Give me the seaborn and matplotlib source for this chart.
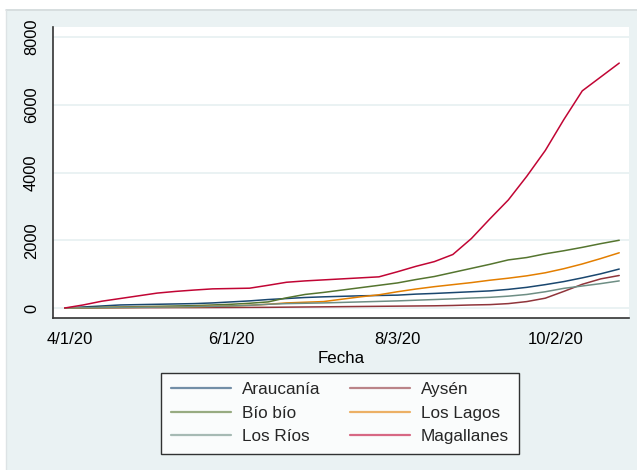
import matplotlib
matplotlib.use("Agg")
import matplotlib.pyplot as plt
import matplotlib.dates as mdates
from matplotlib.patches import Rectangle
from matplotlib.lines import Line2D
import numpy as np
import pandas as pd
import seaborn as sns

# Weekly cumulative cases per region
fechas = pd.date_range("2020-03-30", periods=31, freq="7D")

araucania = [0, 30, 60, 90, 100, 110, 120, 130, 150, 180, 210, 250, 280, 310, 330, 345,
             360, 370, 380, 410, 430, 455, 480, 505, 550, 610, 690, 780, 890, 1010, 1150]
aysen = [0, 2, 5, 8, 10, 10, 12, 12, 14, 15, 18, 20, 25, 30, 35, 40,
         45, 50, 55, 60, 65, 75, 90, 100, 130, 190, 290, 490, 700, 860, 960]
bio_bio = [0, 10, 20, 30, 40, 50, 60, 70, 90, 110, 140, 180, 300, 400, 460, 530,
           600, 670, 740, 840, 930, 1050, 1170, 1290, 1420, 1490, 1600, 1690, 1790, 1900, 2000]
los_lagos = [0, 5, 10, 15, 20, 25, 30, 40, 50, 60, 80, 110, 150, 170, 190, 260,
             330, 390, 480, 560, 630, 690, 750, 820, 880, 950, 1040, 1160, 1300, 1460, 1630]
los_rios = [0, 5, 10, 15, 20, 25, 30, 40, 50, 60, 80, 110, 130, 140, 150, 165,
            180, 195, 210, 230, 250, 270, 295, 315, 350, 400, 480, 580, 650, 720, 800]
magallanes = [0, 90, 200, 280, 360, 440, 490, 530, 565, 575, 585, 670, 760, 800, 830, 860,
              890, 920, 1070, 1230, 1370, 1580, 2050, 2630, 3190, 3890, 4650, 5560, 6410, 6820, 7230]

regiones = ["Araucanía", "Aysén", "Bío bío", "Los Lagos", "Los Ríos", "Magallanes"]
colores = ["#1a476f", "#90353b", "#55752f", "#e37e00", "#6e8e84", "#c10534"]

x_ticks = ["2020-04-01", "2020-06-01", "2020-08-03", "2020-10-02"]
x_tick_labels = ["4/1/20", "6/1/20", "8/3/20", "10/2/20"]
y_ticks = [0, 2000, 4000, 6000, 8000]

series = [araucania, aysen, bio_bio, los_lagos, los_rios, magallanes]
df = pd.concat(
    [pd.DataFrame({"Fecha": fechas, "Casos": vals, "Región": nombre})
     for nombre, vals in zip(regiones, series)],
    ignore_index=True,
)

sns.set_theme(style="white")
plt.rcParams["font.family"] = ["Liberation Sans", "DejaVu Sans"]

W, H = 637, 470
fig = plt.figure(figsize=(W / 100, H / 100), dpi=100)
fig.patch.set_facecolor("white")

# graph region background
fig.patches.append(Rectangle((6 / W, 0), 1, 1 - 9 / H, transform=fig.transFigure,
                             facecolor="#eaf2f3", edgecolor="none", zorder=-10))
fig.add_artist(Line2D([6 / W, 1], [1 - 9.5 / H, 1 - 9.5 / H], transform=fig.transFigure,
                      color="#d4dadc", lw=1.2))
fig.add_artist(Line2D([6.5 / W, 6.5 / W], [0, 1 - 9.5 / H], transform=fig.transFigure,
                      color="#dde3e5", lw=1.0))

ax = fig.add_axes([53 / W, 1 - 318 / H, (629 - 53) / W, (318 - 27) / H])
ax.set_facecolor("white")

sns.lineplot(data=df, x="Fecha", y="Casos", hue="Región", hue_order=regiones,
             palette=colores, linewidth=1.1, ax=ax, legend=True)

# axes limits and ticks
base = mdates.date2num(pd.Timestamp("2020-04-01"))
ax.set_xlim(base - 6.44, base + 211.7)
ax.set_ylim(-295, 8295)
ax.set_xticks([mdates.date2num(pd.Timestamp(t)) for t in x_ticks])
ax.set_xticklabels(x_tick_labels)
ax.set_yticks(y_ticks)
ax.set_yticklabels([str(v) for v in y_ticks], rotation=90, va="center")
ax.tick_params(axis="both", which="major", direction="out", length=6, width=1.0,
               color="#222222", labelsize=12, labelcolor="black", pad=4)
ax.tick_params(axis="y", labelsize=11.8)
ax.grid(axis="y", color="#eaf2f3", lw=1.4)
ax.grid(axis="x", visible=False)
ax.set_axisbelow(True)
for side in ["top", "right"]:
    ax.spines[side].set_visible(False)
for side in ["left", "bottom"]:
    ax.spines[side].set_color("#333333")
    ax.spines[side].set_linewidth(1.2)

ax.set_ylabel("")
ax.set_xlabel("Fecha", fontsize=12.2, color="black", labelpad=3)

handles, labels = ax.get_legend_handles_labels()
ax.get_legend().remove()
order = [0, 2, 4, 1, 3, 5]
leg = fig.legend([handles[i] for i in order], [labels[i] for i in order],
                 loc="upper center", bbox_to_anchor=(340 / W, 1 - 373 / H),
                 borderaxespad=0.0,
                 ncol=2, fontsize=12.3, frameon=True, fancybox=False,
                 handlelength=3.5, handletextpad=0.65, columnspacing=1.75,
                 labelspacing=0.5, borderpad=0.55)
leg.get_frame().set_edgecolor("black")
leg.get_frame().set_facecolor("white")
leg.get_frame().set_linewidth(1.0)
for line in leg.get_lines():
    line.set_linewidth(1.6)
    line.set_alpha(0.6)

fig.savefig("out.png", dpi=100, facecolor=fig.get_facecolor())
